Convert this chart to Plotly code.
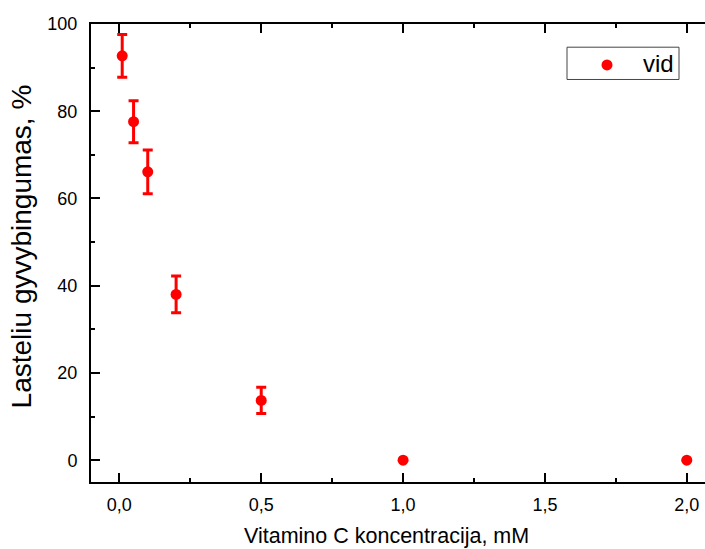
import plotly.graph_objects as go

conc = [0.01, 0.05, 0.1, 0.2, 0.5, 1.0, 2.0]
viability = [92.7, 77.6, 66.1, 38.0, 13.7, 0.0, 0.0]
err = [4.9, 4.8, 5.0, 4.2, 3.0, 0.0, 0.0]
series_name = "vid"

x_tickvals = [0.0, 0.5, 1.0, 1.5, 2.0]
x_ticktext = ["0,0", "0,5", "1,0", "1,5", "2,0"]
y_tickvals = [0, 20, 40, 60, 80, 100]

# figure is a bit wider than the 705px window so the plot area runs off the right edge
W, H = 730, 549
L, R, T, B = 91, 0, 23.5, 67.3
PW, PH = W - L - R, H - T - B

FONT = "Arial, Liberation Sans, sans-serif"
RED = "#ff0000"


def px(xp):
    return (xp - L) / PW


def py(yp):
    return (H - B - yp) / PH


fig = go.Figure()
fig.add_trace(go.Scatter(
    x=conc, y=viability, mode="markers", name=series_name, showlegend=False,
    marker=dict(color=RED, size=11, symbol="circle"),
    error_y=dict(type="data", array=err, visible=True, color=RED,
                 thickness=3, width=5),
))

axis_common = dict(showgrid=False, zeroline=False, showline=True, linecolor="black",
                   linewidth=2, ticks="inside", tickcolor="black", tickwidth=2,
                   ticklen=9, tickfont=dict(family=FONT, size=18, color="black"))

fig.update_xaxes(range=[-0.1, -0.1 + PW / 283.7], tickvals=x_tickvals, ticktext=x_ticktext,
                 mirror="ticks", ticklabelstandoff=5,
                 minor=dict(dtick=0.25, tick0=0, ticks="inside", ticklen=4, tickwidth=2, tickcolor="black"),
                 **axis_common)
fig.update_yaxes(range=[-5, 100], tickvals=y_tickvals, ticklabelstandoff=8,
                 minor=dict(dtick=10, tick0=0, ticks="inside", ticklen=4, tickwidth=2, tickcolor="black"),
                 **axis_common)

fig.add_annotation(text="Vitamino C koncentracija, mM", xref="paper", yref="paper",
                   x=px(241.7), y=py(536),
                   xanchor="left", yanchor="middle", showarrow=False,
                   font=dict(family=FONT, size=21.5, color="black"))
fig.add_annotation(text="Lasteliu gyvybingumas, %", xref="paper", yref="paper",
                   x=px(21), y=py(246),
                   xanchor="center", yanchor="middle", textangle=-90, showarrow=False,
                   font=dict(family=FONT, size=28, color="black"))

# legend box drawn manually
fig.add_shape(type="rect", xref="paper", yref="paper",
              x0=px(567), x1=px(679), y0=py(79), y1=py(46.7),
              line=dict(color="#444444", width=1), fillcolor="white", layer="above")
fig.add_shape(type="circle", xref="paper", yref="paper",
              x0=px(601.5), x1=px(612.5), y0=py(70), y1=py(59),
              line=dict(color=RED, width=0), fillcolor=RED, layer="above")
fig.add_annotation(text=series_name, xref="paper", yref="paper",
                   x=px(640.5), y=py(63.5), xanchor="left", yanchor="middle", showarrow=False,
                   font=dict(family=FONT, size=24, color="black"))

fig.update_layout(
    width=W, height=H, margin=dict(l=L, r=R, t=T, b=B),
    plot_bgcolor="white", paper_bgcolor="white",
    showlegend=False,
)

fig.write_html("out.html", config={"displayModeBar": False},
               post_script="document.body.style.margin='0';document.body.style.padding='0';"
                           "document.body.style.overflow='hidden';")
